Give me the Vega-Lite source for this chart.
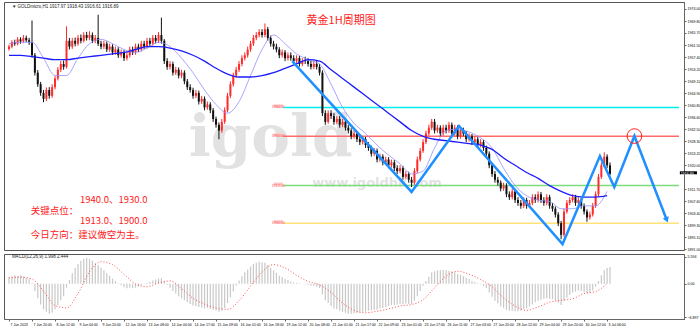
{
"$schema":"https://vega.github.io/schema/vega-lite/v6.json",
"padding":{"left":3,"top":1,"right":0,"bottom":0},
"background":"white",
"spacing":1,
"config":{"view":{"stroke":"#555","strokeWidth":1},"font":"Liberation Sans"},
"datasets":{
"candles":[
{"i":0,"o":1960.2,"h":1961.7,"l":1959.6,"c":1961,"m":1.5},
{"i":2,"o":1961,"h":1963.2,"l":1960.4,"c":1962.5,"m":1.6},
{"i":4,"o":1962.5,"h":1963.4,"l":1961.3,"c":1962,"m":1.8},
{"i":6,"o":1962,"h":1964.3,"l":1961.4,"c":1963.5,"m":1.7},
{"i":8,"o":1963.5,"h":1964.2,"l":1962,"c":1962.8,"m":1.8},
{"i":10,"o":1962.8,"h":1965,"l":1962.2,"c":1964,"m":1.6},
{"i":12,"o":1964,"h":1964.8,"l":1962.5,"c":1963.2,"m":1.3},
{"i":14,"o":1963.2,"h":1964,"l":1961.6,"c":1962.5,"m":1.0},
{"i":16,"o":1962.5,"h":1970,"l":1957.2,"c":1958,"m":0.2},
{"i":18,"o":1958,"h":1958.8,"l":1951,"c":1952,"m":-1.5},
{"i":20,"o":1952,"h":1952.9,"l":1947.1,"c":1948,"m":-3.0},
{"i":22,"o":1948,"h":1948.8,"l":1944,"c":1945,"m":-4.3},
{"i":24,"o":1945,"h":1946,"l":1941.8,"c":1943,"m":-5.3},
{"i":26,"o":1943,"h":1946.9,"l":1942.2,"c":1946,"m":-5.8},
{"i":28,"o":1946,"h":1947,"l":1943,"c":1944,"m":-6.2},
{"i":30,"o":1944,"h":1948,"l":1943.3,"c":1947,"m":-6.0},
{"i":32,"o":1947,"h":1950.8,"l":1946.2,"c":1950,"m":-5.3},
{"i":34,"o":1950,"h":1953.9,"l":1949.3,"c":1953,"m":-4.4},
{"i":36,"o":1953,"h":1956,"l":1952.2,"c":1955,"m":-3.4},
{"i":38,"o":1955,"h":1956.2,"l":1953,"c":1954,"m":-2.6},
{"i":40,"o":1954,"h":1968,"l":1953.4,"c":1963,"m":-0.8},
{"i":42,"o":1963,"h":1964,"l":1960,"c":1961,"m":0.8},
{"i":44,"o":1961,"h":1964,"l":1960.2,"c":1963,"m":2.2},
{"i":46,"o":1963,"h":1964.1,"l":1961.1,"c":1962,"m":3.3},
{"i":48,"o":1962,"h":1965,"l":1961.3,"c":1964,"m":4.2},
{"i":50,"o":1964,"h":1965.2,"l":1962.1,"c":1963,"m":4.8},
{"i":52,"o":1963,"h":1966,"l":1962.4,"c":1965,"m":5.2},
{"i":54,"o":1965,"h":1966.1,"l":1963.1,"c":1964,"m":5.4},
{"i":56,"o":1964,"h":1966.3,"l":1963.2,"c":1965,"m":5.2},
{"i":58,"o":1965,"h":1965.9,"l":1962.2,"c":1963,"m":4.8},
{"i":60,"o":1963,"h":1965,"l":1962.2,"c":1964,"m":4.4},
{"i":62,"o":1964,"h":1972,"l":1961.2,"c":1962,"m":3.9},
{"i":64,"o":1962,"h":1963,"l":1960.1,"c":1961,"m":3.4},
{"i":66,"o":1961,"h":1963,"l":1960.2,"c":1962,"m":2.8},
{"i":68,"o":1962,"h":1962.8,"l":1959.1,"c":1960,"m":2.2},
{"i":70,"o":1960,"h":1962,"l":1959.2,"c":1961,"m":1.7},
{"i":72,"o":1961,"h":1961.8,"l":1958.1,"c":1959,"m":1.1},
{"i":74,"o":1959,"h":1961,"l":1958.2,"c":1960,"m":0.6},
{"i":76,"o":1960,"h":1960.8,"l":1957.1,"c":1958,"m":0.1},
{"i":78,"o":1958,"h":1960,"l":1957.2,"c":1959,"m":-0.3},
{"i":80,"o":1959,"h":1959.8,"l":1956,"c":1957,"m":-0.7},
{"i":82,"o":1957,"h":1959,"l":1956.2,"c":1958,"m":-0.9},
{"i":84,"o":1958,"h":1961,"l":1957.2,"c":1960,"m":-0.8},
{"i":86,"o":1960,"h":1961,"l":1958.1,"c":1959,"m":-0.9},
{"i":88,"o":1959,"h":1962,"l":1958.2,"c":1961,"m":-0.8},
{"i":90,"o":1961,"h":1962,"l":1959.1,"c":1960,"m":-0.6},
{"i":92,"o":1960,"h":1963,"l":1959.3,"c":1962,"m":-0.3},
{"i":94,"o":1962,"h":1963,"l":1960.1,"c":1961,"m":-0.1},
{"i":96,"o":1961,"h":1964,"l":1960.3,"c":1963,"m":0.2},
{"i":98,"o":1963,"h":1964,"l":1961.1,"c":1962,"m":0.4},
{"i":100,"o":1962,"h":1965,"l":1961.3,"c":1964,"m":0.7},
{"i":102,"o":1964,"h":1965,"l":1962.1,"c":1963,"m":0.9},
{"i":104,"o":1963,"h":1966,"l":1962.2,"c":1965,"m":1.1},
{"i":106,"o":1965,"h":1971,"l":1962,"c":1963,"m":1.2},
{"i":108,"o":1963,"h":1963.6,"l":1955,"c":1956,"m":0.6},
{"i":110,"o":1956,"h":1957,"l":1953,"c":1954,"m":-0.2},
{"i":112,"o":1954,"h":1956,"l":1953.1,"c":1955,"m":-0.8},
{"i":114,"o":1955,"h":1955.8,"l":1951,"c":1952,"m":-1.5},
{"i":116,"o":1952,"h":1954,"l":1951.2,"c":1953,"m":-2.0},
{"i":118,"o":1953,"h":1953.8,"l":1950,"c":1951,"m":-2.6},
{"i":120,"o":1951,"h":1953,"l":1950.1,"c":1952,"m":-3.0},
{"i":122,"o":1952,"h":1952.8,"l":1948,"c":1949,"m":-3.4},
{"i":124,"o":1949,"h":1949.8,"l":1946,"c":1947,"m":-3.8},
{"i":126,"o":1947,"h":1948,"l":1945.1,"c":1946,"m":-4.2},
{"i":128,"o":1946,"h":1946.8,"l":1943,"c":1944,"m":-4.5},
{"i":130,"o":1944,"h":1946,"l":1943.2,"c":1945,"m":-4.6},
{"i":132,"o":1945,"h":1945.8,"l":1941,"c":1942,"m":-4.8},
{"i":134,"o":1942,"h":1944,"l":1941.2,"c":1943,"m":-4.9},
{"i":136,"o":1943,"h":1943.8,"l":1939,"c":1940,"m":-5.1},
{"i":138,"o":1940,"h":1942,"l":1939.2,"c":1941,"m":-5.0},
{"i":140,"o":1941,"h":1941.8,"l":1938,"c":1939,"m":-5.2},
{"i":142,"o":1939,"h":1939.8,"l":1935,"c":1936,"m":-5.4},
{"i":144,"o":1936,"h":1936.8,"l":1933,"c":1934,"m":-5.6},
{"i":146,"o":1934,"h":1934.8,"l":1929,"c":1932,"m":-5.8},
{"i":148,"o":1932,"h":1936,"l":1931.2,"c":1935,"m":-5.6},
{"i":150,"o":1935,"h":1940,"l":1934.3,"c":1939,"m":-5.0},
{"i":152,"o":1939,"h":1945,"l":1938.3,"c":1944,"m":-4.0},
{"i":154,"o":1944,"h":1949,"l":1943.2,"c":1948,"m":-2.8},
{"i":156,"o":1948,"h":1952,"l":1947.2,"c":1951,"m":-1.6},
{"i":158,"o":1951,"h":1954,"l":1950.2,"c":1953,"m":-0.4},
{"i":160,"o":1953,"h":1956,"l":1952.2,"c":1955,"m":0.7},
{"i":162,"o":1955,"h":1958,"l":1954.2,"c":1957,"m":1.6},
{"i":164,"o":1957,"h":1959,"l":1956.2,"c":1958,"m":2.4},
{"i":166,"o":1958,"h":1961,"l":1957.2,"c":1960,"m":3.0},
{"i":168,"o":1960,"h":1963,"l":1959.2,"c":1962,"m":3.6},
{"i":170,"o":1962,"h":1965,"l":1961.2,"c":1964,"m":4.1},
{"i":172,"o":1964,"h":1966,"l":1963.2,"c":1965,"m":4.4},
{"i":174,"o":1965,"h":1967,"l":1964.2,"c":1966,"m":4.6},
{"i":176,"o":1966,"h":1967,"l":1964.1,"c":1965,"m":4.5},
{"i":178,"o":1965,"h":1969,"l":1964.2,"c":1967,"m":4.4},
{"i":180,"o":1967,"h":1967.8,"l":1963,"c":1964,"m":3.9},
{"i":182,"o":1964,"h":1964.8,"l":1961,"c":1962,"m":3.3},
{"i":184,"o":1962,"h":1963,"l":1960,"c":1961,"m":2.8},
{"i":186,"o":1961,"h":1962,"l":1959,"c":1960,"m":2.3},
{"i":188,"o":1960,"h":1960.8,"l":1957,"c":1958,"m":1.7},
{"i":190,"o":1958,"h":1960,"l":1957.2,"c":1959,"m":1.4},
{"i":192,"o":1959,"h":1959.8,"l":1956,"c":1957,"m":1.0},
{"i":194,"o":1957,"h":1959,"l":1956.2,"c":1958,"m":0.8},
{"i":196,"o":1958,"h":1959,"l":1956.1,"c":1957,"m":0.5},
{"i":198,"o":1957,"h":1958,"l":1955.1,"c":1956,"m":0.3},
{"i":200,"o":1956,"h":1958,"l":1955.2,"c":1957,"m":0.2},
{"i":202,"o":1957,"h":1957.8,"l":1954.1,"c":1955,"m":0.1},
{"i":204,"o":1955,"h":1957,"l":1954.2,"c":1956,"m":0.0},
{"i":206,"o":1956.3,"h":1957.5,"l":1955,"c":1956,"m":-0.1},
{"i":208,"o":1956,"h":1957,"l":1954.1,"c":1955,"m":-0.2},
{"i":210,"o":1955,"h":1956,"l":1953.1,"c":1954,"m":-0.4},
{"i":212,"o":1954,"h":1956,"l":1953.2,"c":1955,"m":-0.4},
{"i":214,"o":1955,"h":1956,"l":1953.1,"c":1954,"m":-0.6},
{"i":216,"o":1954,"h":1955,"l":1951,"c":1952,"m":-0.9},
{"i":218,"o":1952,"h":1952.8,"l":1937,"c":1938,"m":-2.2},
{"i":220,"o":1938,"h":1939,"l":1934,"c":1935,"m":-3.4},
{"i":222,"o":1935,"h":1939,"l":1934.3,"c":1938,"m":-4.0},
{"i":224,"o":1938,"h":1939,"l":1936,"c":1937,"m":-4.6},
{"i":226,"o":1937,"h":1938,"l":1934,"c":1935,"m":-5.1},
{"i":228,"o":1935,"h":1937,"l":1934.2,"c":1936,"m":-5.3},
{"i":230,"o":1936,"h":1937,"l":1933,"c":1934,"m":-5.6},
{"i":232,"o":1934,"h":1936,"l":1933.2,"c":1935,"m":-5.8},
{"i":234,"o":1935,"h":1935.8,"l":1932,"c":1933,"m":-6.0},
{"i":236,"o":1933,"h":1934,"l":1931,"c":1932,"m":-6.2},
{"i":238,"o":1932,"h":1932.8,"l":1929,"c":1930,"m":-6.2},
{"i":240,"o":1930,"h":1932,"l":1929.2,"c":1931,"m":-6.1},
{"i":242,"o":1931,"h":1931.8,"l":1928,"c":1929,"m":-6.1},
{"i":244,"o":1929,"h":1930,"l":1927,"c":1928,"m":-6.0},
{"i":246,"o":1928,"h":1930,"l":1927.2,"c":1929,"m":-5.8},
{"i":248,"o":1929,"h":1929.8,"l":1926,"c":1927,"m":-5.8},
{"i":250,"o":1927,"h":1928,"l":1925,"c":1926,"m":-5.6},
{"i":252,"o":1926,"h":1926.8,"l":1923,"c":1924,"m":-5.5},
{"i":254,"o":1924,"h":1926,"l":1923.2,"c":1925,"m":-5.4},
{"i":256,"o":1925,"h":1925.8,"l":1921,"c":1922,"m":-5.4},
{"i":258,"o":1922,"h":1924,"l":1921.2,"c":1923,"m":-5.1},
{"i":260,"o":1923,"h":1923.8,"l":1920,"c":1921,"m":-5.0},
{"i":262,"o":1921,"h":1923,"l":1920.2,"c":1922,"m":-4.8},
{"i":264,"o":1922,"h":1922.8,"l":1919,"c":1920,"m":-4.6},
{"i":266,"o":1920,"h":1922,"l":1919.2,"c":1921,"m":-4.4},
{"i":268,"o":1921,"h":1921.8,"l":1918,"c":1919,"m":-4.4},
{"i":270,"o":1919,"h":1920,"l":1917,"c":1918,"m":-4.3},
{"i":272,"o":1918,"h":1920,"l":1917.2,"c":1919,"m":-4.2},
{"i":274,"o":1919,"h":1919.8,"l":1915,"c":1916,"m":-4.2},
{"i":276,"o":1916,"h":1918,"l":1915.2,"c":1917,"m":-4.1},
{"i":278,"o":1917,"h":1917.8,"l":1914,"c":1915,"m":-4.2},
{"i":280,"o":1915,"h":1916,"l":1912.5,"c":1914,"m":-4.2},
{"i":282,"o":1914,"h":1919,"l":1913.3,"c":1918,"m":-3.5},
{"i":284,"o":1918,"h":1923,"l":1917.3,"c":1922,"m":-2.6},
{"i":286,"o":1922,"h":1926,"l":1921.3,"c":1925,"m":-1.5},
{"i":288,"o":1925,"h":1929,"l":1924.3,"c":1928,"m":-0.4},
{"i":290,"o":1928,"h":1932,"l":1927.3,"c":1931,"m":0.6},
{"i":292,"o":1931,"h":1934,"l":1930.2,"c":1933,"m":1.5},
{"i":294,"o":1933,"h":1936,"l":1932.2,"c":1935,"m":2.4},
{"i":296,"o":1935,"h":1936,"l":1931,"c":1932,"m":2.6},
{"i":298,"o":1932,"h":1934,"l":1931.2,"c":1933,"m":2.8},
{"i":300,"o":1933,"h":1933.8,"l":1930,"c":1931,"m":2.8},
{"i":302,"o":1931,"h":1934,"l":1930.2,"c":1933,"m":2.9},
{"i":304,"o":1933,"h":1934,"l":1931,"c":1932,"m":2.8},
{"i":306,"o":1932,"h":1935,"l":1931.2,"c":1934,"m":2.7},
{"i":308,"o":1934,"h":1934.8,"l":1930,"c":1931,"m":2.6},
{"i":310,"o":1931,"h":1934,"l":1930.2,"c":1933,"m":2.4},
{"i":312,"o":1933,"h":1933.8,"l":1929,"c":1930,"m":2.0},
{"i":314,"o":1930,"h":1933,"l":1929.2,"c":1932,"m":1.9},
{"i":316,"o":1932,"h":1933,"l":1930,"c":1931,"m":1.6},
{"i":318,"o":1931,"h":1931.8,"l":1928,"c":1929,"m":1.2},
{"i":320,"o":1929,"h":1931,"l":1928.2,"c":1930,"m":1.0},
{"i":322,"o":1930,"h":1930.8,"l":1927,"c":1928,"m":0.6},
{"i":324,"o":1928,"h":1930,"l":1927.2,"c":1929,"m":0.4},
{"i":326,"o":1929,"h":1929.8,"l":1926,"c":1927,"m":0.1},
{"i":328,"o":1927,"h":1929,"l":1926.2,"c":1928,"m":-0.1},
{"i":330,"o":1928,"h":1928.8,"l":1925,"c":1926,"m":-0.4},
{"i":332,"o":1926,"h":1926.8,"l":1923,"c":1924,"m":-0.9},
{"i":334,"o":1924,"h":1924.8,"l":1919,"c":1920,"m":-1.8},
{"i":336,"o":1920,"h":1920.8,"l":1916,"c":1917,"m":-2.7},
{"i":338,"o":1917,"h":1918,"l":1914,"c":1915,"m":-3.5},
{"i":340,"o":1915,"h":1916,"l":1913,"c":1914,"m":-4.1},
{"i":342,"o":1914,"h":1914.8,"l":1911,"c":1912,"m":-4.7},
{"i":344,"o":1912,"h":1914,"l":1911.2,"c":1913,"m":-5.0},
{"i":346,"o":1913,"h":1913.8,"l":1909,"c":1910,"m":-5.4},
{"i":348,"o":1910,"h":1911,"l":1908,"c":1909,"m":-5.6},
{"i":350,"o":1909,"h":1912,"l":1908.2,"c":1911,"m":-5.6},
{"i":352,"o":1911,"h":1911.8,"l":1907,"c":1908,"m":-5.7},
{"i":354,"o":1908,"h":1909,"l":1906,"c":1907,"m":-5.7},
{"i":356,"o":1907,"h":1908,"l":1905,"c":1906,"m":-5.6},
{"i":358,"o":1906,"h":1909,"l":1905.2,"c":1908,"m":-5.3},
{"i":360,"o":1908,"h":1908.8,"l":1905,"c":1906,"m":-5.1},
{"i":362,"o":1906,"h":1908,"l":1905.2,"c":1907,"m":-4.7},
{"i":364,"o":1907,"h":1910,"l":1906.2,"c":1909,"m":-4.3},
{"i":366,"o":1909,"h":1910,"l":1907,"c":1908,"m":-3.8},
{"i":368,"o":1908,"h":1911,"l":1907.2,"c":1910,"m":-3.5},
{"i":370,"o":1910,"h":1910.8,"l":1907,"c":1908,"m":-3.3},
{"i":372,"o":1908,"h":1909,"l":1906,"c":1907,"m":-3.1},
{"i":374,"o":1907,"h":1910,"l":1906.2,"c":1909,"m":-3.0},
{"i":376,"o":1909,"h":1909.8,"l":1905,"c":1906,"m":-3.1},
{"i":378,"o":1906,"h":1907,"l":1904,"c":1905,"m":-3.2},
{"i":380,"o":1905,"h":1905.8,"l":1902,"c":1903,"m":-3.5},
{"i":382,"o":1903,"h":1903.8,"l":1899,"c":1900,"m":-3.9},
{"i":384,"o":1900,"h":1900.8,"l":1894.5,"c":1896,"m":-4.4},
{"i":386,"o":1896,"h":1905,"l":1895.3,"c":1904,"m":-3.6},
{"i":388,"o":1904,"h":1908,"l":1903.3,"c":1907,"m":-2.9},
{"i":390,"o":1907,"h":1909,"l":1906.2,"c":1908,"m":-2.3},
{"i":392,"o":1908,"h":1910,"l":1907.2,"c":1909,"m":-1.8},
{"i":394,"o":1909,"h":1909.8,"l":1906,"c":1907,"m":-1.6},
{"i":396,"o":1907,"h":1909,"l":1906.2,"c":1908,"m":-1.4},
{"i":398,"o":1908,"h":1908.8,"l":1905,"c":1906,"m":-1.5},
{"i":400,"o":1906,"h":1906.8,"l":1903,"c":1904,"m":-1.7},
{"i":402,"o":1904,"h":1904.8,"l":1900.5,"c":1902,"m":-1.9},
{"i":404,"o":1902,"h":1904,"l":1901.2,"c":1903,"m":-1.8},
{"i":406,"o":1903,"h":1907,"l":1902.3,"c":1906,"m":-1.4},
{"i":408,"o":1906,"h":1911,"l":1905.3,"c":1910,"m":-0.6},
{"i":410,"o":1910,"h":1917,"l":1909.3,"c":1916,"m":0.6},
{"i":412,"o":1916,"h":1921,"l":1915.3,"c":1920,"m":1.8},
{"i":414,"o":1920,"h":1924.5,"l":1919.3,"c":1923,"m":2.8},
{"i":416,"o":1923,"h":1923.8,"l":1919,"c":1920,"m":3.3},
{"i":418,"o":1920,"h":1921,"l":1916.5,"c":1917,"m":3.5}
],
"ma":[
{"i":0,"a":1958,"b":1962},{"i":8,"a":1958,"b":1962.5},{"i":16,"a":1957.5,"b":1962.5},{"i":24,"a":1957,"b":1957},{"i":32,"a":1956.5,"b":1951},{"i":40,"a":1956.5,"b":1951},{"i":48,"a":1957,"b":1957},{"i":56,"a":1957.5,"b":1962},{"i":64,"a":1958,"b":1963.5},{"i":72,"a":1958.5,"b":1962},{"i":80,"a":1959,"b":1960},{"i":88,"a":1960,"b":1959},{"i":96,"a":1961,"b":1960.5},{"i":104,"a":1961,"b":1962.5},{"i":112,"a":1960.5,"b":1961},{"i":120,"a":1959.5,"b":1957},{"i":128,"a":1958,"b":1952},{"i":136,"a":1956,"b":1946},{"i":144,"a":1953.5,"b":1941},{"i":152,"a":1951.5,"b":1938},{"i":160,"a":1950.5,"b":1942},{"i":168,"a":1950.5,"b":1951},{"i":176,"a":1951,"b":1960},{"i":184,"a":1952,"b":1965},{"i":192,"a":1953.5,"b":1962},{"i":200,"a":1955,"b":1958.5},{"i":208,"a":1956.5,"b":1956.5},{"i":216,"a":1956,"b":1955},{"i":224,"a":1953,"b":1948},{"i":232,"a":1950,"b":1940},{"i":240,"a":1947,"b":1934.5},{"i":248,"a":1944,"b":1931},{"i":256,"a":1941,"b":1927},{"i":264,"a":1938,"b":1923.5},{"i":272,"a":1935,"b":1920.5},{"i":280,"a":1932,"b":1917},{"i":288,"a":1930,"b":1918},{"i":296,"a":1929,"b":1926},{"i":304,"a":1928.5,"b":1932},{"i":312,"a":1928,"b":1932.5},{"i":320,"a":1927.5,"b":1931.5},{"i":328,"a":1927,"b":1929.5},{"i":336,"a":1925.5,"b":1926},{"i":344,"a":1922.5,"b":1919},{"i":352,"a":1920,"b":1913},{"i":360,"a":1917.5,"b":1909.5},{"i":368,"a":1915.5,"b":1908},{"i":376,"a":1913,"b":1907.5},{"i":384,"a":1911,"b":1905},{"i":392,"a":1909.5,"b":1905},{"i":400,"a":1909,"b":1906},{"i":408,"a":1909,"b":1906},{"i":416,"a":1909.5,"b":1911}
],
"sig":[
{"i":0,"s":1.2},{"i":8,"s":1.4},{"i":16,"s":1.0},{"i":24,"s":-1.5},{"i":32,"s":-4.5},{"i":40,"s":-5.0},{"i":48,"s":-2.0},{"i":56,"s":2.5},{"i":64,"s":4.6},{"i":72,"s":4.0},{"i":80,"s":2.0},{"i":88,"s":0.0},{"i":96,"s":-0.6},{"i":104,"s":0.2},{"i":112,"s":0.6},{"i":120,"s":-1.0},{"i":128,"s":-3.0},{"i":136,"s":-4.2},{"i":144,"s":-5.0},{"i":152,"s":-5.3},{"i":160,"s":-3.5},{"i":168,"s":-0.5},{"i":176,"s":2.5},{"i":184,"s":4.0},{"i":192,"s":3.3},{"i":200,"s":1.8},{"i":208,"s":0.5},{"i":216,"s":-0.2},{"i":224,"s":-1.8},{"i":232,"s":-4.0},{"i":240,"s":-5.5},{"i":248,"s":-6.0},{"i":256,"s":-5.7},{"i":264,"s":-5.2},{"i":272,"s":-4.6},{"i":280,"s":-4.3},{"i":288,"s":-3.3},{"i":296,"s":-0.8},{"i":304,"s":1.6},{"i":312,"s":2.6},{"i":320,"s":2.0},{"i":328,"s":0.9},{"i":336,"s":-0.6},{"i":344,"s":-2.9},{"i":352,"s":-4.6},{"i":360,"s":-5.5},{"i":368,"s":-4.8},{"i":376,"s":-3.8},{"i":384,"s":-3.4},{"i":392,"s":-3.1},{"i":400,"s":-2.0},{"i":408,"s":-1.6},{"i":416,"s":0.1}
],
"zig":[
{"k":1,"i":197,"p":1956},{"k":2,"i":280,"p":1910.8},{"k":3,"i":313,"p":1933.6},{"k":4,"i":385,"p":1892.8},{"k":5,"i":411,"p":1923.2},{"k":6,"i":421,"p":1912.5},{"k":7,"i":435,"p":1930.1},{"k":8,"i":457.5,"p":1901.1}
],
"levels":[
{"level":1940,"from":190.7,"to":466,"name":"1940.00","b0":184,"b1":190.5},
{"level":1930,"from":190.7,"to":466,"name":"1930.00","b0":184,"b1":190.5},
{"level":1913,"from":190.7,"to":466,"name":"1913.00","b0":184,"b1":190.5},
{"level":1900,"from":190.7,"to":466,"name":"1900.00","b0":184,"b1":190.5}
],
"last":[{"p":1916.89,"t":"1916.89","b0":466.6,"b1":478.5}]
},
"vconcat":[
{
"width":680,"height":248,
"layer":[
{"data":{"values":[{"t":"igold","i":182,"p":1929}]},
 "mark":{"type":"text","font":"DejaVu Serif","fontSize":58,"fontWeight":"bold","color":"#9a9a9a","opacity":0.28,"align":"center","baseline":"middle"},
 "encoding":{"x":{"field":"i","type":"quantitative","scale":{"domain":[0,466],"nice":false,"zero":false},"axis":null},"y":{"field":"p","type":"quantitative","scale":{"domain":[1890.75,1976.4],"nice":false,"zero":false},"axis":{"orient":"right","values":[1891,1895.1,1899.3,1903.4,1907.6,1911.7,1920,1924.2,1928.3,1932.5,1936.6,1940.8,1944.9,1949.1,1953.2,1957.4,1961.5,1965.7,1969.8,1974],"tickCount":100,"format":".2f","labelFontSize":3.6,"labelOverlap":false,"labelFlush":false,"labelSeparation":0,"tickSize":2,"tickColor":"#666","domainColor":"#666","labelColor":"#000","labelPadding":1,"grid":false,"title":null}},"text":{"field":"t"}}},
{"data":{"values":[{"t":"www.igoldhk.com","i":256,"p":1914}]},
 "mark":{"type":"text","font":"DejaVu Sans","fontSize":13,"fontWeight":"bold","color":"#9a9a9a","opacity":0.28,"align":"center","baseline":"middle"},
 "encoding":{"x":{"field":"i","type":"quantitative"},"y":{"field":"p","type":"quantitative","title":null},"text":{"field":"t"}}},
{"data":{"name":"levels"},
 "mark":{"type":"rule","strokeWidth":1.5},
 "encoding":{"x":{"field":"from","type":"quantitative"},"x2":{"field":"to"},"y":{"field":"level","type":"quantitative","title":null},"color":{"field":"name","type":"nominal","scale":{"domain":["1940.00","1930.00","1913.00","1900.00"],"range":["#00f0f0","#ff6b6b","#7ddc7d","#ffe27a"]},"legend":null}}},
{"data":{"name":"levels"},
 "mark":{"type":"rect","color":"#ffc4c4"},
 "encoding":{"x":{"field":"b0","type":"quantitative"},"x2":{"field":"b1"},"y":{"field":"level","type":"quantitative","title":null},"y2":{"field":"level"},"yOffset":{"value":-3},"y2Offset":{"value":3}}},
{"data":{"name":"levels"},
 "mark":{"type":"text","fontSize":3.6,"align":"center","baseline":"middle","color":"#ff4d4d"},
 "encoding":{"x":{"datum":187.2},"y":{"field":"level","type":"quantitative","title":null},"text":{"field":"name"}}},
{"data":{"name":"candles"},
 "mark":{"type":"rule","strokeWidth":1},
 "encoding":{"x":{"field":"i","type":"quantitative"},"y":{"field":"l","type":"quantitative","title":null},"y2":{"field":"h"},"color":{"condition":{"test":"datum.c >= datum.o","value":"#ff2a2a"},"value":"#111111"}}},
{"data":{"name":"candles"},
 "mark":{"type":"bar","size":2,"orient":"vertical"},
 "encoding":{"x":{"field":"i","type":"quantitative"},"y":{"field":"o","type":"quantitative","title":null},"y2":{"field":"c"},"color":{"condition":{"test":"datum.c >= datum.o","value":"#ff2a2a"},"value":"#111111"}}},
{"data":{"name":"ma"},
 "mark":{"type":"line","color":"#9090ff","strokeWidth":0.8,"interpolate":"monotone"},
 "encoding":{"x":{"field":"i","type":"quantitative"},"y":{"field":"b","type":"quantitative","title":null}}},
{"data":{"name":"ma"},
 "mark":{"type":"line","color":"#1c1cff","strokeWidth":1.3,"interpolate":"monotone"},
 "encoding":{"x":{"field":"i","type":"quantitative"},"y":{"field":"a","type":"quantitative","title":null}}},
{"data":{"name":"zig"},
 "mark":{"type":"line","color":"#1e90ff","strokeWidth":2.5},
 "encoding":{"x":{"field":"i","type":"quantitative"},"y":{"field":"p","type":"quantitative","title":null},"order":{"field":"k"}}},
{"data":{"name":"zig"},
 "transform":[{"filter":"datum.k == 8"}],
 "mark":{"type":"point","shape":"triangle-down","filled":true,"color":"#1e90ff","size":40,"angle":-21,"opacity":1},
 "encoding":{"x":{"field":"i","type":"quantitative"},"y":{"field":"p","type":"quantitative","title":null}}},
{"data":{"name":"zig"},
 "transform":[{"filter":"datum.k == 7"}],
 "mark":{"type":"point","shape":"circle","filled":false,"color":"#ff2020","strokeWidth":1,"size":215,"opacity":1},
 "encoding":{"x":{"field":"i","type":"quantitative"},"y":{"field":"p","type":"quantitative","title":null}}},
{"data":{"name":"last"},
 "mark":{"type":"rect","color":"#000000"},
 "encoding":{"x":{"field":"b0","type":"quantitative"},"x2":{"field":"b1"},"y":{"field":"p","type":"quantitative","title":null},"y2":{"field":"p"},"yOffset":{"value":-3},"y2Offset":{"value":3}}},
{"data":{"name":"last"},
 "mark":{"type":"text","fontSize":3.6,"align":"left","baseline":"middle","color":"#ffffff","dx":1},
 "encoding":{"x":{"field":"b0","type":"quantitative"},"y":{"field":"p","type":"quantitative","title":null},"text":{"field":"t"}}},
{"data":{"values":[{"t":"黄金1H周期图","i":231,"p":1969.9}]},
 "mark":{"type":"text","font":"Noto Sans CJK SC","fontSize":11,"color":"#ff1a1a","align":"center","baseline":"middle"},
 "encoding":{"x":{"field":"i","type":"quantitative"},"y":{"field":"p","type":"quantitative","title":null},"text":{"field":"t"}}},
{"data":{"values":[{"t":"▼ GOLDmicro,H1  1917.97 1918.43 1916.61 1916.89","i":2,"p":1974.6}]},
 "mark":{"type":"text","fontSize":4.5,"color":"#222","align":"left","baseline":"middle"},
 "encoding":{"x":{"field":"i","type":"quantitative"},"y":{"field":"p","type":"quantitative","title":null},"text":{"field":"t"}}},
{"data":{"values":[
 {"t":"1940.0、1930.0","i":49.4,"p":1908.0},
 {"t":"关键点位：","i":15.1,"p":1904.2},
 {"t":"1913.0、1900.0","i":49.4,"p":1900.8},
 {"t":"今日方向：建议做空为主。","i":15.1,"p":1895.9}]},
 "mark":{"type":"text","font":"Noto Sans CJK SC","fontSize":9.5,"color":"#ff2020","align":"left","baseline":"middle"},
 "encoding":{"x":{"field":"i","type":"quantitative"},"y":{"field":"p","type":"quantitative","title":null},"text":{"field":"t"}}}
]
},
{
"width":680,"height":65,
"layer":[
{"data":{"name":"candles"},
 "mark":{"type":"bar","size":1.2,"color":"#c8c8c8","orient":"vertical"},
 "encoding":{"x":{"field":"i","type":"quantitative","scale":{"domain":[0,466],"nice":false,"zero":false},"axis":{"values":[0,16,32,48,64,80,96,112,128,144,160,176,192,208,224,240,256,272,288,304,320,336,352,368,384,400,416],"tickCount":100,"labelExpr":"['7 Jun 2023','7 Jun 20:00','8 Jun 12:00','9 Jun 04:00','9 Jun 20:00','12 Jun 16:00','13 Jun 08:00','14 Jun 00:00','14 Jun 17:00','15 Jun 09:00','16 Jun 01:00','16 Jun 18:00','19 Jun 12:00','20 Jun 08:00','21 Jun 01:00','21 Jun 17:00','22 Jun 09:00','23 Jun 01:00','23 Jun 17:00','26 Jun 11:00','27 Jun 03:00','27 Jun 20:00','28 Jun 12:00','29 Jun 04:00','29 Jun 20:00','30 Jun 12:00','3 Jul 06:00'][round(datum.value/16)]","labelAlign":"left","labelBaseline":"top","labelFontSize":3.5,"labelOffset":1,"labelOverlap":false,"labelFlush":false,"labelSeparation":0,"labelColor":"#000","tickSize":2,"tickColor":"#666","domainColor":"#666","labelPadding":1,"grid":false,"title":null}},
  "y":{"field":"m","type":"quantitative","scale":{"domain":[-7.3,6.2],"nice":false,"zero":false},"axis":{"orient":"right","values":[5.594,0,-6.897],"tickCount":100,"labelExpr":"datum.value == 0 ? '0.00' : format(datum.value, '.3f')","labelFontSize":3.6,"labelOverlap":false,"labelFlush":false,"tickSize":2,"tickColor":"#666","domainColor":"#666","labelColor":"#000","labelPadding":1,"grid":false,"title":null}},
  "y2":{"datum":0}}},
{"data":{"name":"sig"},
 "mark":{"type":"line","color":"#ff5050","strokeWidth":1,"strokeDash":[1,2],"interpolate":"monotone"},
 "encoding":{"x":{"field":"i","type":"quantitative"},"y":{"field":"s","type":"quantitative","title":null}}},
{"data":{"values":[{"t":"MACD(12,26,9) 1.998 2.444","i":2,"v":5.6}]},
 "mark":{"type":"text","fontSize":4.5,"color":"#222","align":"left","baseline":"middle"},
 "encoding":{"x":{"field":"i","type":"quantitative"},"y":{"field":"v","type":"quantitative","title":null},"text":{"field":"t"}}}
]
}
]
}
